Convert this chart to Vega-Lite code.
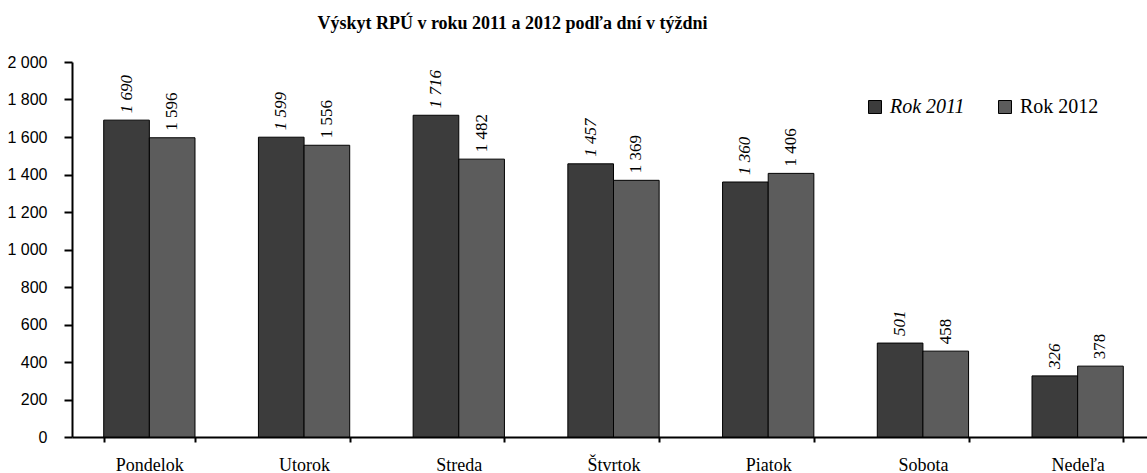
{
  "$schema": "https://vega.github.io/schema/vega-lite/v6.json",
  "width": 1075,
  "height": 375,
  "autosize": {"type": "none"},
  "padding": {"left": 72, "top": 62, "right": 0, "bottom": 36},
  "config": {
    "locale": {"number": {"decimal": ",", "thousands": " ", "grouping": [3], "currency": ["", " €"]}},
    "view": {"stroke": null}
  },
  "title": {
    "text": "Výskyt RPÚ v roku 2011 a 2012 podľa dní v týždni",
    "font": "Liberation Serif",
    "fontSize": 18,
    "fontWeight": "bold",
    "color": "black",
    "anchor": "middle",
    "dx": -97,
    "offset": 21
  },
  "data": {
    "values": [
      {"day": "Pondelok", "year": "Rok 2011", "value": 1690},
      {"day": "Pondelok", "year": "Rok 2012", "value": 1596},
      {"day": "Utorok", "year": "Rok 2011", "value": 1599},
      {"day": "Utorok", "year": "Rok 2012", "value": 1556},
      {"day": "Streda", "year": "Rok 2011", "value": 1716},
      {"day": "Streda", "year": "Rok 2012", "value": 1482},
      {"day": "Štvrtok", "year": "Rok 2011", "value": 1457},
      {"day": "Štvrtok", "year": "Rok 2012", "value": 1369},
      {"day": "Piatok", "year": "Rok 2011", "value": 1360},
      {"day": "Piatok", "year": "Rok 2012", "value": 1406},
      {"day": "Sobota", "year": "Rok 2011", "value": 501},
      {"day": "Sobota", "year": "Rok 2012", "value": 458},
      {"day": "Nedeľa", "year": "Rok 2011", "value": 326},
      {"day": "Nedeľa", "year": "Rok 2012", "value": 378}
    ]
  },
  "encoding": {
    "x": {
      "field": "day",
      "type": "nominal",
      "sort": ["Pondelok", "Utorok", "Streda", "Štvrtok", "Piatok", "Sobota", "Nedeľa"],
      "scale": {"range": [0, 1083], "paddingInner": 0.41, "paddingOuter": 0.205},
      "axis": {
        "title": null,
        "labelAngle": 0,
        "labelFont": "Liberation Serif",
        "labelFontSize": 18,
        "labelColor": "black",
        "domainColor": "black",
        "domainWidth": 2,
        "tickColor": "black",
        "tickWidth": 2,
        "tickSize": 5,
        "tickBand": "extent",
        "labelPadding": 14
      }
    },
    "xOffset": {
      "field": "year",
      "type": "nominal",
      "sort": ["Rok 2011", "Rok 2012"],
      "scale": {"paddingInner": 0, "paddingOuter": 0}
    },
    "y": {
      "field": "value",
      "type": "quantitative",
      "scale": {"domain": [0, 2000], "nice": false},
      "axis": {
        "title": null,
        "values": [0, 200, 400, 600, 800, 1000, 1200, 1400, 1600, 1800, 2000],
        "format": ",d",
        "grid": false,
        "labelFont": "Liberation Sans",
        "labelFontSize": 16,
        "labelColor": "black",
        "domainColor": "black",
        "domainWidth": 2,
        "tickColor": "black",
        "tickWidth": 2,
        "tickSize": 8,
        "labelPadding": 17
      }
    }
  },
  "layer": [
    {
      "mark": {"type": "bar", "stroke": "black", "strokeWidth": 1},
      "encoding": {
        "fill": {
          "field": "year",
          "type": "nominal",
          "scale": {"domain": ["Rok 2011", "Rok 2012"], "range": ["#3c3c3c", "#5c5c5c"]},
          "legend": {
            "title": null,
            "orient": "none",
            "legendX": 793,
            "legendY": 35,
            "direction": "horizontal",
            "symbolType": "square",
            "symbolSize": 169,
            "symbolStrokeColor": "black",
            "symbolStrokeWidth": 1,
            "labelFont": "Liberation Serif",
            "labelFontSize": 20,
            "labelColor": "black",
            "labelOffset": 5,
            "columnPadding": 30,
            "encode": {
              "labels": {
                "update": {
                  "fontStyle": {"signal": "datum.value == 'Rok 2011' ? 'italic' : 'normal'"}
                }
              }
            }
          }
        }
      }
    },
    {
      "transform": [{"filter": "datum.year == 'Rok 2011'"}],
      "mark": {
        "type": "text",
        "angle": 270,
        "align": "left",
        "baseline": "middle",
        "dx": 7,
        "font": "Liberation Serif",
        "fontSize": 17,
        "fontStyle": "italic",
        "color": "black"
      },
      "encoding": {
        "text": {"field": "value", "type": "quantitative", "format": ",d"}
      }
    },
    {
      "transform": [{"filter": "datum.year == 'Rok 2012'"}],
      "mark": {
        "type": "text",
        "angle": 270,
        "align": "left",
        "baseline": "middle",
        "dx": 7,
        "font": "Liberation Serif",
        "fontSize": 17,
        "color": "black"
      },
      "encoding": {
        "text": {"field": "value", "type": "quantitative", "format": ",d"}
      }
    }
  ]
}
